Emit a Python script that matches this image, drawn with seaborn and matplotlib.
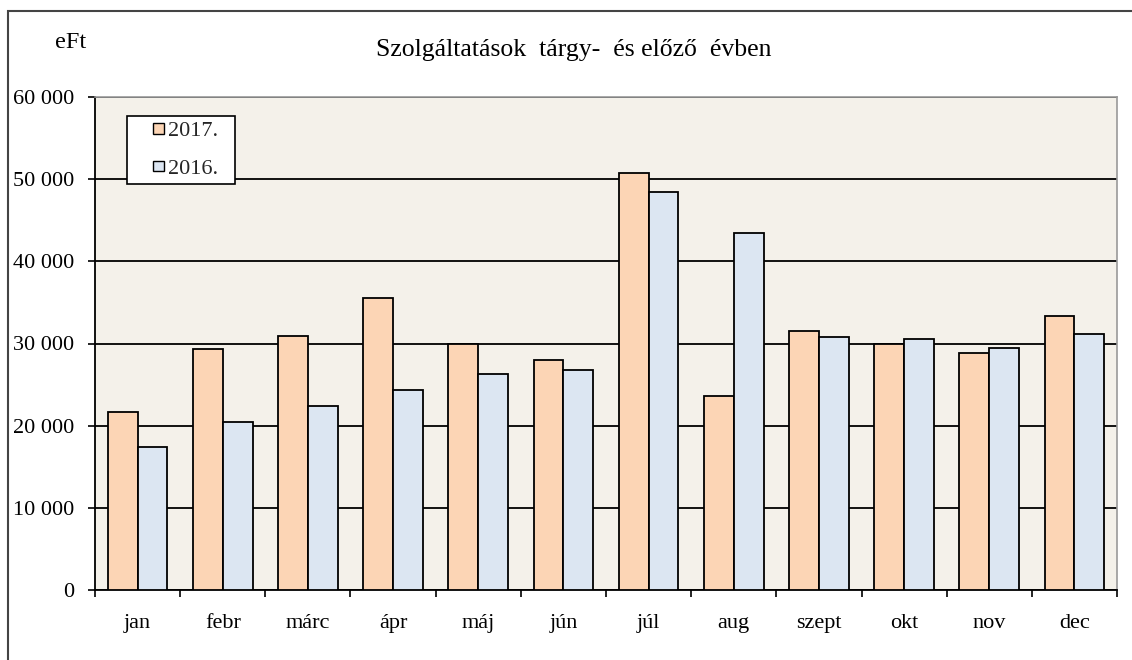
import matplotlib
matplotlib.use("Agg")
import matplotlib.pyplot as plt
import matplotlib.patches as mpatches
import matplotlib.ticker as mticker
from matplotlib.legend_handler import HandlerPatch
import seaborn as sns
import pandas as pd

months = ["jan", "febr", "márc", "ápr", "máj", "jún", "júl", "aug", "szept", "okt", "nov", "dec"]
v2017 = [21700, 29300, 30950, 35500, 29900, 28000, 50750, 23600, 31500, 29900, 28850, 33400]
v2016 = [17350, 20500, 22350, 24300, 26300, 26800, 48450, 43450, 30750, 30500, 29450, 31100]
series = ["2017.", "2016."]
colors = ["#FCD5B5", "#DCE6F2"]
yticks = [0, 10000, 20000, 30000, 40000, 50000, 60000]

df = pd.DataFrame({
    "hónap": months * 2,
    "érték": v2017 + v2016,
    "év": [series[0]] * len(months) + [series[1]] * len(months),
})

sns.set_theme(style="white")
plt.rcParams["font.family"] = ["Liberation Serif", "DejaVu Serif"]

fig = plt.figure(figsize=(11.32, 6.6), dpi=100)
ax = fig.add_axes([95 / 1132, 70 / 660, 1022 / 1132, 493 / 660])
ax.set_facecolor("#F4F1EA")

ax.set_axisbelow(True)
ax.yaxis.grid(True, color="black", linewidth=1.3)
ax.xaxis.grid(False)

sns.barplot(data=df, x="hónap", y="érték", hue="év", hue_order=series,
            palette=colors, width=0.7, edgecolor="black", linewidth=1.3,
            saturation=1, ax=ax, zorder=3)

ax.set_ylim(0, 60000)
ax.set_xlim(-0.5, len(months) - 0.5)
ax.set_yticks(yticks)
ax.yaxis.set_major_formatter(mticker.FuncFormatter(lambda v, p: f"{int(v):,}".replace(",", " ")))
ax.set_xlabel("")
ax.set_ylabel("")

for s in ["top", "right"]:
    ax.spines[s].set_visible(True)
    ax.spines[s].set_color("#999999")
    ax.spines[s].set_linewidth(1.2)
for s in ["left", "bottom"]:
    ax.spines[s].set_color("black")
    ax.spines[s].set_linewidth(1.3)

ax.tick_params(axis="y", which="major", left=True, length=5, width=1.2, color="black",
               pad=10, labelsize=16, labelcolor="black")
ax.set_xticks(range(len(months)))
ax.set_xticklabels(months)
ax.tick_params(axis="x", which="major", bottom=False, pad=11, labelsize=16, labelcolor="black")
ax.set_xticks([i - 0.5 for i in range(len(months) + 1)], minor=True)
ax.tick_params(axis="x", which="minor", bottom=True, length=5, width=1.2, color="black")


def square_patch(legend, orig_handle, xdescent, ydescent, width, height, fontsize):
    size = 7.5
    return mpatches.Rectangle((-xdescent + width - size, -ydescent + (height - size) / 2),
                              size, size)


handles, labels = ax.get_legend_handles_labels()
leg = ax.legend(handles, [l + "\u2007" for l in labels],
                loc="upper left", bbox_to_anchor=(0.031, 0.962), frameon=True,
                fancybox=False, edgecolor="black", fontsize=16, handlelength=1.42,
                handleheight=0.6, handletextpad=0.18, borderpad=0.25, labelspacing=0.8,
                borderaxespad=0, framealpha=1,
                handler_map={mpatches.Rectangle: HandlerPatch(patch_func=square_patch)})
leg.get_frame().set_linewidth(1.2)
leg.get_frame().set_facecolor("white")
for h in leg.legend_handles:
    h.set_edgecolor("black")
    h.set_linewidth(1.0)

fig.text(574 / 1132, 1 - 50 / 660, "Szolgáltatások  tárgy-  és előző  évben",
         ha="center", va="center", fontsize=18.5, color="black")
fig.text(71 / 1132, 1 - 42 / 660, "eFt", ha="center", va="center", fontsize=17.5, color="black")

frame = mpatches.Rectangle((8 / 1132, -0.05), 1.2, (1 - 11 / 660) + 0.05,
                           transform=fig.transFigure, fill=False,
                           edgecolor="#444444", linewidth=1.5, clip_on=False)
fig.add_artist(frame)

fig.savefig("out.png", dpi=100)
